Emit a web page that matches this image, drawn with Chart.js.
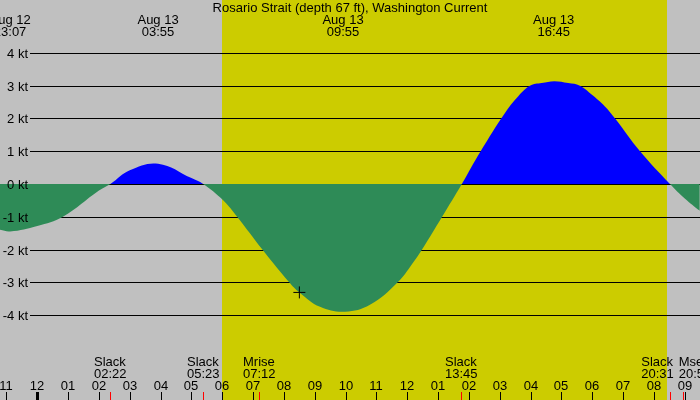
<!DOCTYPE html>
<html><head><meta charset="utf-8">
<script src="https://cdn.jsdelivr.net/npm/chart.js@4"></script>
<style>html,body{margin:0;padding:0;background:#c0c0c0;overflow:hidden}canvas{display:block}</style>
</head><body>
<canvas id="c" width="700" height="400"></canvas>
<script>
const TITLE = 'Rosario Strait (depth 67 ft), Washington Current';
// time in hours relative to Aug 13 00:00, current speed in knots (flood +, ebb -)
const hours  = [-1.21, -0.88, 0, 0.83, 2, 2.37, 3, 3.92, 5, 5.38, 6.02, 6.48, 7.3, 8.17, 8.5, 9.17, 9.98, 10.79, 11.69, 12.25, 12.48, 13.13, 13.77, 14.38, 15.17, 15.6, 15.98, 16.36, 16.77, 17.22, 17.6, 17.98, 18.41, 18.74, 19.55, 20.52, 21, 21.49];
const speeds = [-1.40, -1.45, -1.28, -1.0, -0.2, 0, 0.42, 0.62, 0.18, 0, -0.49, -1.0, -2.0, -3.0, -3.31, -3.75, -3.9, -3.69, -3.0, -2.32, -2.0, -1.0, 0, 1.0, 2.17, 2.68, 3.0, 3.08, 3.14, 3.08, 3.0, 2.73, 2.37, 2.0, 1.0, 0, -0.44, -0.82];
const viewStart = -1.21, viewEnd = 21.495;
const yMin = -6.595, yMax = 5.618;
const daylight = [6.0, 20.43];
const gridKt = [4, 3, 2, 1, 0, -1, -2, -3, -4];
const extremaT    = [-0.883, 3.917, 9.917, 16.75];
const extremaDate = ['Aug 12', 'Aug 13', 'Aug 13', 'Aug 13'];
const extremaTime = ['23:07', '03:55', '09:55', '16:45'];
const eventT    = [2.367, 5.383, 7.2, 13.75, 20.517, 20.933];
const eventName = ['Slack', 'Slack', 'Mrise', 'Slack', 'Slack', 'Mset'];
const eventTime = ['02:22', '05:23', '07:12', '13:45', '20:31', '20:56'];
const nowT = [8.5], nowV = [-3.31];

const FONT = '13px "Liberation Sans", Arial, sans-serif';

const decor = {
  id: 'decor',
  beforeDraw(chart) {
    const {ctx, scales: {x}} = chart;
    ctx.save();
    ctx.fillStyle = '#c0c0c0';
    ctx.fillRect(0, 0, chart.width, chart.height);
    ctx.fillStyle = '#cccc00';
    const a = Math.round(x.getPixelForValue(daylight[0])), b = Math.round(x.getPixelForValue(daylight[1]));
    ctx.fillRect(a, 0, b - a, chart.height);
    ctx.restore();
  },
  beforeDatasetsDraw(chart) {
    const {ctx, scales: {y}} = chart;
    ctx.save();
    ctx.strokeStyle = '#000'; ctx.lineWidth = 1;
    gridKt.forEach(v => {
      const py = Math.round(y.getPixelForValue(v)) + 0.5;
      ctx.beginPath(); ctx.moveTo(30, py); ctx.lineTo(chart.width, py); ctx.stroke();
    });
    ctx.restore();
  },
  afterDatasetsDraw(chart) {
    const {ctx, scales: {y}} = chart;
    ctx.save();
    ctx.font = FONT; ctx.fillStyle = '#000'; ctx.textAlign = 'right'; ctx.textBaseline = 'middle';
    gridKt.forEach(v => {
      const py = Math.round(y.getPixelForValue(v)) + 0.5;
      ctx.fillText(v + ' kt', 28, py + 1);
    });
    ctx.restore();
  },
  afterDraw(chart) {
    const {ctx, scales: {x}} = chart;
    ctx.save();
    ctx.fillStyle = '#000'; ctx.font = FONT; ctx.textBaseline = 'alphabetic';
    ctx.textAlign = 'center';
    ctx.fillText(TITLE, chart.width / 2, 12);
    extremaT.forEach((t, i) => {
      const px = x.getPixelForValue(t);
      ctx.fillText(extremaDate[i], px, 24);
      ctx.fillText(extremaTime[i], px, 36);
    });
    for (let h = Math.ceil(viewStart); h <= Math.floor(viewEnd); h++) {
      const hh = ((h % 24) + 24) % 24;
      const h12 = (hh % 12) || 12;
      const lab = (h12 < 10 ? '0' : '') + h12;
      const px = Math.round(x.getPixelForValue(h));
      ctx.fillStyle = '#000';
      ctx.fillText(lab, px, 390);
      const w = hh === 0 ? 3 : 1;
      ctx.fillRect(px - Math.floor(w / 2), 392, w, 8);
    }
    ctx.textAlign = 'left';
    const items = eventT.map((t, i) => ({
      x: x.getPixelForValue(t),
      w: Math.max(ctx.measureText(eventName[i]).width, ctx.measureText(eventTime[i]).width),
      i
    }));
    const centers = items.map(it => it.x);
    for (let k = 0; k < 5; k++) {
      for (let j = 0; j < items.length - 1; j++) {
        const need = (items[j].w + items[j + 1].w) / 2 + 5;
        const d = centers[j + 1] - centers[j];
        if (d < need) { const s = (need - d) / 2; centers[j] -= s; centers[j + 1] += s; }
      }
    }
    items.forEach((it, j) => {
      const left = centers[j] - it.w / 2;
      ctx.fillStyle = '#000';
      ctx.fillText(eventName[it.i], left, 366);
      ctx.fillText(eventTime[it.i], left, 378);
      ctx.fillStyle = '#ff0000';
      ctx.fillRect(Math.round(it.x), 392, 1, 8);
    });
    ctx.restore();
  }
};

new Chart(document.getElementById('c'), {
  type: 'line',
  data: {
    datasets: [
      {
        type: 'scatter',
        data: nowT.map((t, i) => ({x: t, y: nowV[i]})),
        pointStyle: 'cross', pointRadius: 6, borderColor: '#000', backgroundColor: '#000', borderWidth: 1,
        order: 0
      },
      {
        data: hours.map((t, i) => ({x: t, y: speeds[i]})),
        borderWidth: 0, borderColor: 'rgba(0,0,0,0)', pointRadius: 0,
        tension: 0.4,
        fill: {target: 'origin', above: '#0000ff', below: '#2e8b57'},
        order: 1
      }
    ]
  },
  options: {
    responsive: false, animation: false, devicePixelRatio: 1,
    layout: {padding: 0, autoPadding: false},
    plugins: {legend: {display: false}, tooltip: {enabled: false}, title: {display: false}},
    events: [],
    scales: {
      x: {type: 'linear', min: viewStart, max: viewEnd, display: false},
      y: {type: 'linear', min: yMin, max: yMax, display: false}
    }
  },
  plugins: [decor]
});
</script>
</body></html>
